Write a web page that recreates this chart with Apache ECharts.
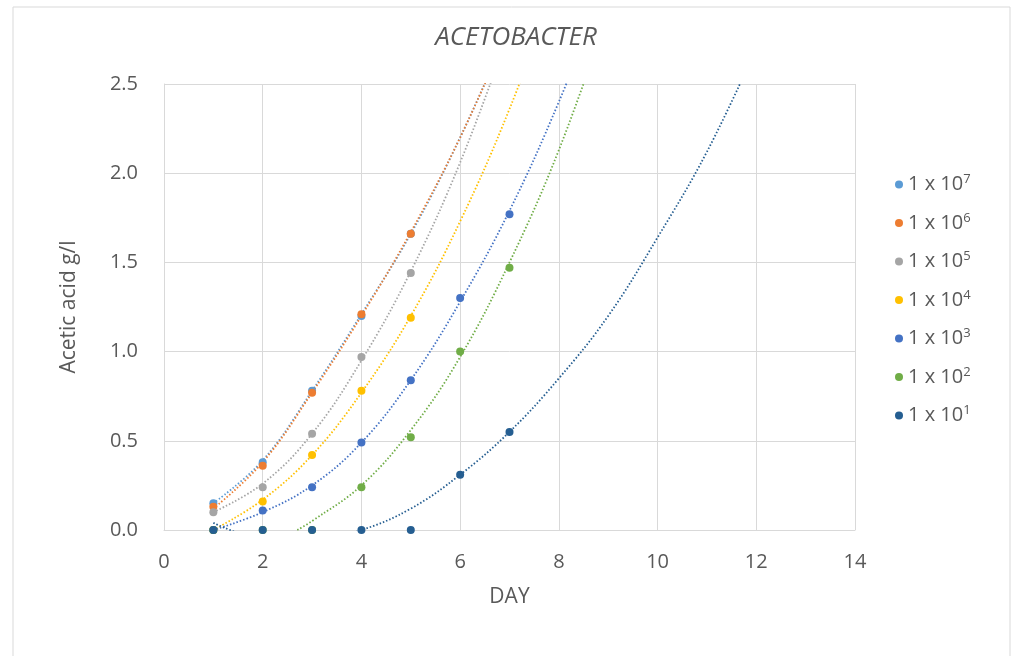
<!DOCTYPE html>
<html>
<head>
<meta charset="utf-8">
<script src="https://cdn.jsdelivr.net/npm/echarts@6/dist/echarts.min.js"></script>
<style>
  html, body { margin: 0; padding: 0; background: #fff; }
  #main { width: 1011px; height: 656px; }
</style>
</head>
<body>
<div id="main"></div>
<script>
// measured points (day, g/l)
var names = ['1 x 10^7', '1 x 10^6', '1 x 10^5', '1 x 10^4', '1 x 10^3', '1 x 10^2', '1 x 10^1'];
var colors = ['#5B9BD5', '#ED7D31', '#A5A5A5', '#FFC000', '#4472C4', '#70AD47', '#255E91'];

var pts1e7 = [[1, 0.15], [2, 0.38], [3, 0.78], [4, 1.20], [5, 1.66]];
var pts1e6 = [[1, 0.13], [2, 0.36], [3, 0.77], [4, 1.21], [5, 1.66]];
var pts1e5 = [[1, 0.10], [2, 0.24], [3, 0.54], [4, 0.97], [5, 1.44]];
var pts1e4 = [[1, 0.00], [2, 0.16], [3, 0.42], [4, 0.78], [5, 1.19]];
var pts1e3 = [[1, 0.00], [2, 0.11], [3, 0.24], [4, 0.49], [5, 0.84], [6, 1.30], [7, 1.77]];
var pts1e2 = [[1, 0.00], [2, 0.00], [3, 0.00], [4, 0.24], [5, 0.52], [6, 1.00], [7, 1.47]];
var pts1e1 = [[1, 0.00], [2, 0.00], [3, 0.00], [4, 0.00], [5, 0.00], [6, 0.31], [7, 0.55]];

// trendlines (parts outside the axis are clipped)
var trend1e7 = [[1, 0.15], [2, 0.39], [3, 0.78], [4, 1.21], [5, 1.66], [6, 2.20], [7, 2.82]];
var trend1e6 = [[1, 0.12], [2, 0.38], [3, 0.77], [4, 1.20], [5, 1.67], [6, 2.20], [7, 2.82]];
var trend1e5 = [[1, 0.10], [2, 0.26], [3, 0.54], [4, 0.95], [5, 1.45], [6, 2.06], [7, 2.80]];
var trend1e4 = [[1, 0.00], [2, 0.17], [3, 0.42], [4, 0.77], [5, 1.20], [6, 1.73], [7, 2.36], [8, 3.10]];
var trend1e3 = [[1, 0.00], [2, 0.10], [3, 0.25], [4, 0.49], [5, 0.84], [6, 1.28], [7, 1.79], [8, 2.40], [9, 3.10]];
var trend1e2 = [[2.7, 0.00], [3, 0.05], [4, 0.25], [5, 0.56], [6, 0.97], [7, 1.50], [8, 2.13], [9, 2.90]];
var trend1e1 = [[1, 0.04], [2, -0.05], [3, -0.06], [4, 0.00], [5, 0.12], [6, 0.31], [7, 0.55], [8, 0.85], [9, 1.20], [10, 1.64], [11, 2.12], [12, 2.70]];

var points = [pts1e7, pts1e6, pts1e5, pts1e4, pts1e3, pts1e2, pts1e1];
var trends = [trend1e7, trend1e6, trend1e5, trend1e4, trend1e3, trend1e2, trend1e1];

var chart = echarts.init(document.getElementById('main'));

var series = [];
// trendlines first so the dots sit on top
for (var i = 0; i < names.length; i++) {
    series.push({
        name: 'trend ' + names[i],
        type: 'line',
        data: trends[i],
        smooth: 0.4,
        showSymbol: false,
        symbol: 'none',
        clip: true,
        silent: true,
        z: 2,
        lineStyle: { color: colors[i], width: 1.8, type: [1.5, 2] }
    });
}
// later series drawn on top, like excel
for (var j = 0; j < names.length; j++) {
    series.push({
        name: names[j],
        type: 'scatter',
        data: points[j],
        symbolSize: 8,
        z: 3,
        itemStyle: { color: colors[j], opacity: 1 }
    });
}

var option = {
    backgroundColor: '#fff',
    animation: false,
    textStyle: { fontFamily: 'Open Sans' },
    graphic: [{
        type: 'rect',
        shape: { x: 13, y: 7, width: 997, height: 660 },
        style: { fill: 'none', stroke: '#d9d9d9', lineWidth: 1 },
        z: -1
    }],
    title: {
        text: 'ACETOBACTER',
        left: 511,
        textAlign: 'center',
        top: 20,
        textStyle: { fontSize: 26, fontStyle: 'italic', fontWeight: 'normal', color: '#595959', fontFamily: 'Open Sans' }
    },
    legend: {
        data: names,
        orient: 'vertical',
        left: 890,
        top: 168,
        itemGap: 17,
        icon: 'circle',
        itemWidth: 8,
        itemHeight: 8,
        formatter: function (name) {
            var p = name.split('^');
            return p[0] + '{s|' + p[1] + '}';
        },
        textStyle: {
            fontSize: 20,
            color: '#595959',
            fontFamily: 'Open Sans',
            rich: {
                s: { fontSize: 13, color: '#595959', fontFamily: 'Open Sans', verticalAlign: 'top', padding: [0, 0, 10, 0] }
            }
        }
    },
    grid: { left: 164, right: 156, top: 84, bottom: 126 },
    xAxis: {
        type: 'value',
        min: 0,
        max: 14,
        interval: 2,
        name: 'DAY',
        nameLocation: 'middle',
        nameGap: 57,
        nameTextStyle: { fontSize: 21, color: '#595959' },
        axisLine: { show: true, lineStyle: { color: '#d9d9d9' } },
        axisTick: { show: false },
        axisLabel: { fontSize: 20, color: '#595959', margin: 22 },
        splitLine: { show: true, lineStyle: { color: '#d9d9d9', width: 1 } }
    },
    yAxis: {
        type: 'value',
        min: 0,
        max: 2.5,
        interval: 0.5,
        name: 'Acetic acid g/l',
        nameLocation: 'middle',
        nameGap: 84,
        nameTextStyle: { fontSize: 21, color: '#595959' },
        axisLine: { show: true, lineStyle: { color: '#d9d9d9' } },
        axisTick: { show: false },
        axisLabel: {
            fontSize: 20,
            color: '#595959',
            margin: 26,
            formatter: function (v) { return v.toFixed(1); }
        },
        splitLine: { show: true, lineStyle: { color: '#d9d9d9', width: 1 } }
    },
    series: series
};

chart.setOption(option);
</script>
</body>
</html>
